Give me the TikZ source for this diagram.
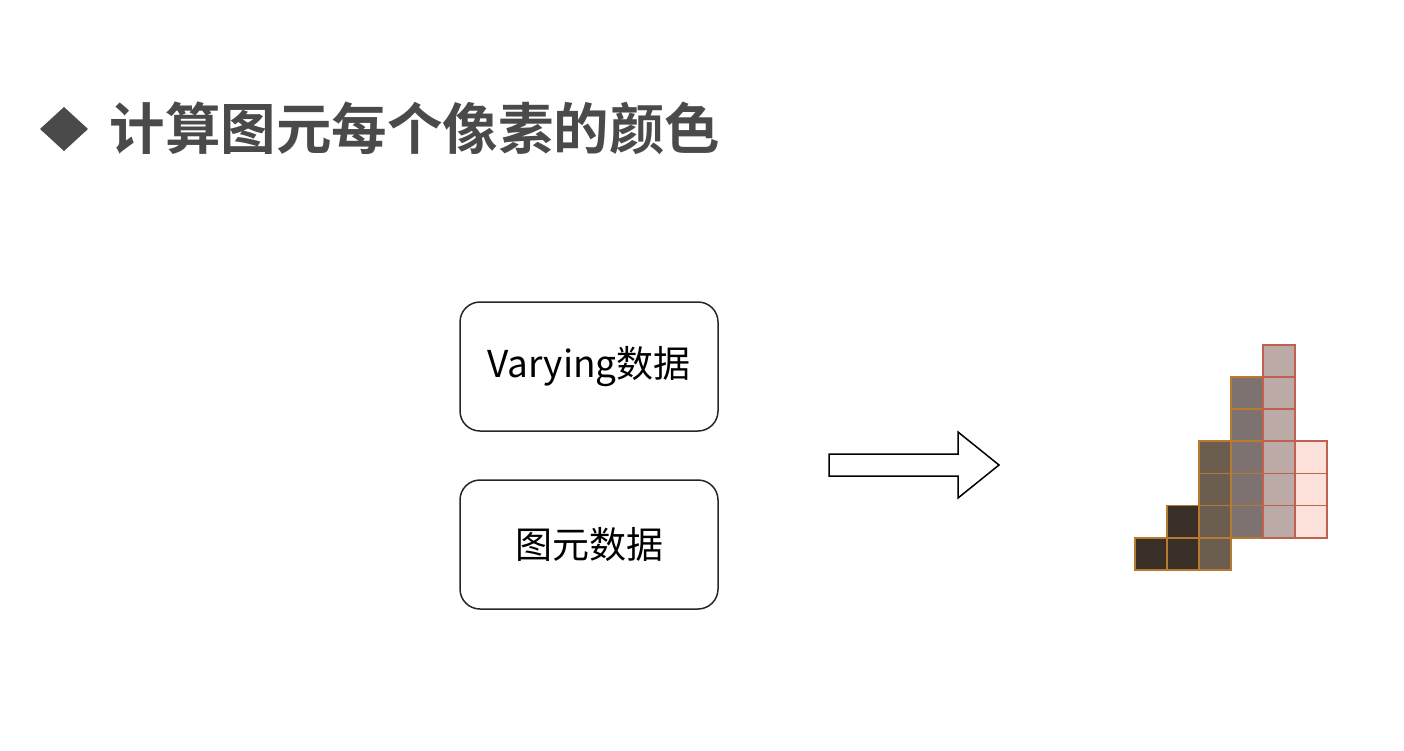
\documentclass[tikz,border=0pt]{standalone}
\usepackage{fontspec}
\setmainfont{Noto Sans CJK SC}
\newfontfamily\titlefont{Noto Sans CJK SC Bold}
\definecolor{titlegray}{HTML}{4A4A4A}
\definecolor{pxdark}{HTML}{3A2F27}
\definecolor{pxbrown}{HTML}{6B5E50}
\definecolor{pxgray}{HTML}{7E7270}
\definecolor{pxrose}{HTML}{BCAAA6}
\definecolor{pxpink}{HTML}{FCE0DA}
\definecolor{edgeorange}{HTML}{B87A30}
\definecolor{edgered}{HTML}{C0604F}
\newcommand{\pixelcols}{0/6/1/pxdark/edgeorange,1/5/2/pxdark/edgeorange,2/3/4/pxbrown/edgeorange,3/1/5/pxgray/edgeorange,4/0/6/pxrose/edgered,5/3/3/pxpink/edgered}
\begin{document}
\begin{tikzpicture}[x=1pt,y=-1pt,
		databox/.style={draw=black!85,line width=1.5pt,rounded corners=20pt,minimum width=258pt,minimum height=129pt,font=\fontsize{37}{40}\selectfont},
		pixel/.style={line width=1.8pt}]
		\useasboundingbox (0,0) rectangle (1404,750);
		% title
		\fill[titlegray] (40,129)--(64,107)--(88,129)--(64,151)--cycle;
		\node[anchor=west,text=titlegray,font=\titlefont\fontsize{55.5}{60}\selectfont] (title) at (106,128) {计算图元每个像素的颜色};
		% input data
		\node[databox] (varying) at (589,366.5) {Varying数据};
		\node[databox] (prim) at (589,544.5) {图元数据};
		% hollow arrow
		\draw[line width=1.5pt,line join=miter] (829,454)--(958,454)--(958,432)--(999,465)--(958,498)--(958,476)--(829,476)--cycle;
		% pixels of the primitive: column/lowest top row/number of cells/fill/edge
		\foreach \c/\r/\n/\col/\edge in \pixelcols
		{
			\foreach \k in {1,...,\n}
			{
				\pgfmathsetmacro{\xa}{1135+32*\c}
				\pgfmathsetmacro{\ya}{345+32.1*(\r+\k-1)}
				\fill[\col] (\xa,\ya) rectangle ++(32,32.1);
			}
		}
		\foreach \c/\r/\n/\col/\edge in \pixelcols
		{
			\foreach \k in {1,...,\n}
			{
				\pgfmathsetmacro{\xa}{1135+32*\c}
				\pgfmathsetmacro{\ya}{345+32.1*(\r+\k-1)}
				\draw[pixel,draw=\edge] (\xa,\ya) rectangle ++(32,32.1);
			}
		}
	\end{tikzpicture}
\end{document}
